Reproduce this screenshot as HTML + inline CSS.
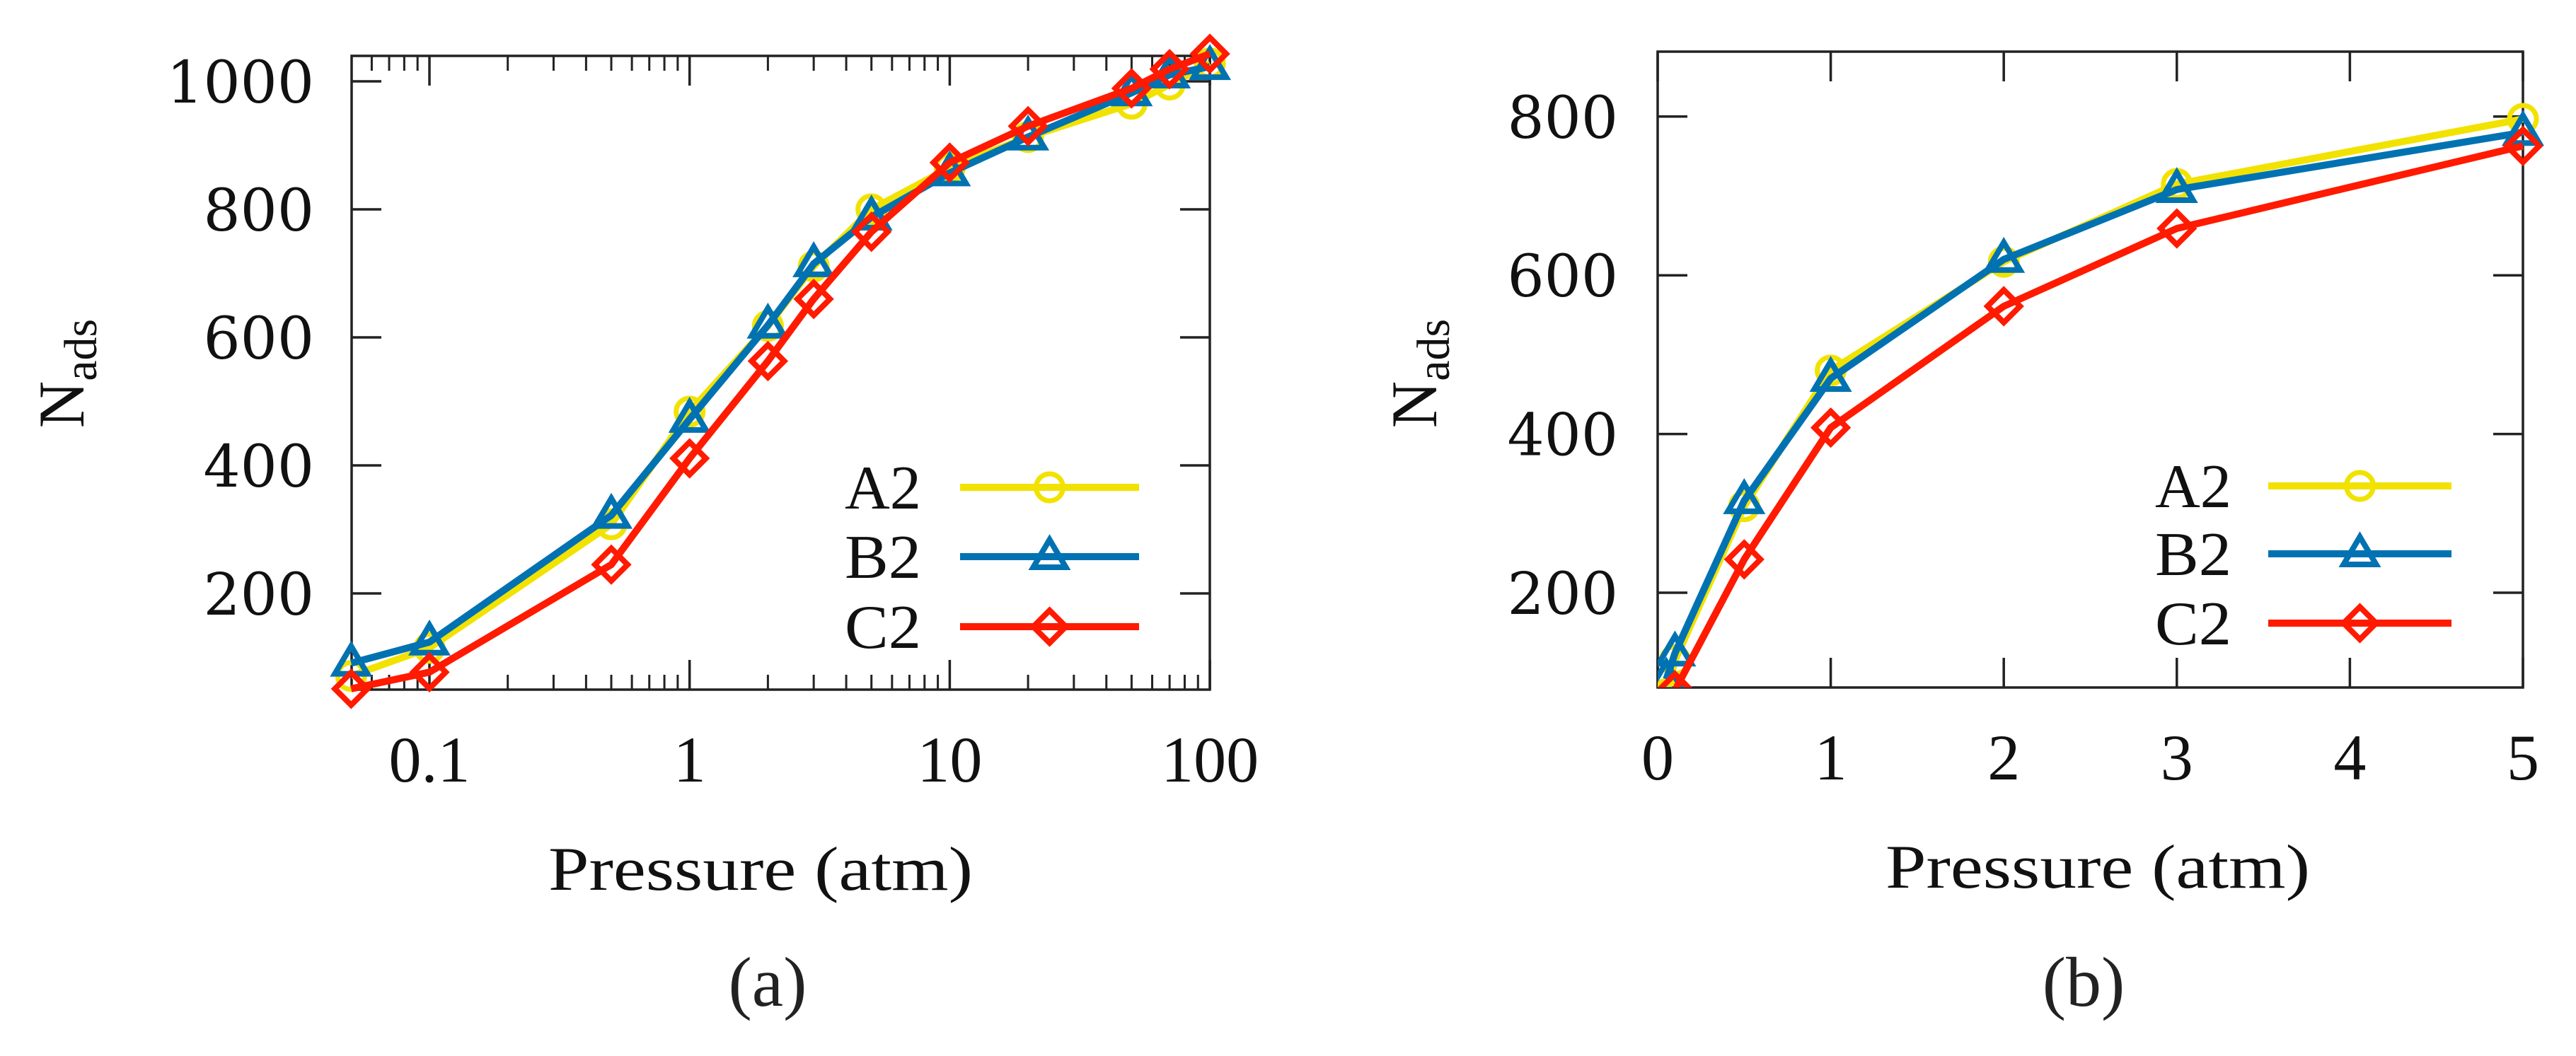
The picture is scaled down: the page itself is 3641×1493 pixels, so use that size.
<!DOCTYPE html>
<html><head><meta charset="utf-8"><style>html,body{margin:0;padding:0;background:#fff}svg{display:block}</style></head>
<body>
<svg id="fig" xmlns="http://www.w3.org/2000/svg" width="3641" height="1493" viewBox="0 0 3641 1493">
<defs>
<clipPath id="clipb"><rect x="2343" y="0" width="1298" height="972"/></clipPath>
</defs>
<rect x="0" y="0" width="3641" height="1493" fill="#fff"/>
<g id="pa"></g>
<g id="pb"></g>
</svg>
<script>
// Panel (a) data (log x)
const xA = [0.05, 0.1, 0.5, 1, 2, 3, 5, 10, 20, 50, 70, 100];
const a2A = [71, 115, 308, 484, 618, 711, 800, 865, 913, 965, 995, 1028];
const b2A = [91, 124, 322, 472, 619, 715, 788, 857, 913, 982, 1010, 1023];
const c2A = [51, 77, 245, 411, 563, 660, 765, 873, 930, 989, 1019, 1043];
const yTicksA = [200, 400, 600, 800, 1000];
const xTicksA = [0.1, 1, 10, 100];
const xTickLabelsA = ["0.1", "1", "10", "100"];
// Panel (b) data (linear x)
const xB = [0.05, 0.1, 0.5, 1, 2, 3, 5];
const a2B = [72, 115, 309, 480, 617, 715, 797];
const b2B = [91, 124, 316, 470, 620, 708, 780];
const c2B = [51, 77, 242, 408, 561, 659, 763];
const yTicksB = [200, 400, 600, 800];
const xTicksB = [0, 1, 2, 3, 4, 5];
const seriesNames = ["A2", "B2", "C2"];
const colors = ["#f2e200", "#0072b2", "#ff1a00"];

const NS = "http://www.w3.org/2000/svg";
const SERIF = "'Liberation Serif', serif";
const DJ = "'DejaVu Serif', serif";
function mk(parent, tag, attrs, txt) {
  const e = document.createElementNS(NS, tag);
  for (const k in attrs) e.setAttribute(k, attrs[k]);
  if (txt !== undefined) e.textContent = txt;
  parent.appendChild(e);
  return e;
}
function marker(g, kind, x, y, c) {
  let m;
  if (kind === 0) m = mk(g, "circle", {cx: x, cy: y, r: 19, fill: "none", stroke: c, "stroke-width": 7});
  else if (kind === 1) m = mk(g, "path", {d: `M${x} ${y-24} L${x+23} ${y+15} L${x-23} ${y+15} Z`, fill: "none", stroke: c, "stroke-width": 8});
  else m = mk(g, "path", {d: `M${x} ${y-23} L${x+23} ${y} L${x} ${y+23} L${x-23} ${y} Z`, fill: "none", stroke: c, "stroke-width": 8});
  return m;
}

function panel(gid, cfg) {
  const g = document.getElementById(gid);
  const X = cfg.X, Y = cfg.Y;
  const fr = mk(g, "rect", {x: cfg.L, y: cfg.T, width: cfg.R - cfg.L, height: cfg.B - cfg.T, fill: "none", stroke: "#222", "stroke-width": 3.5});
  
  
  cfg.yTicks.forEach(v => {
    const y = Y(v);
    const t = mk(g, "path", {d: `M${cfg.L} ${y} h42 M${cfg.R} ${y} h-42`, stroke: "#222", "stroke-width": 3.5});
    
    
    const lb = mk(g, "text", {x: cfg.yLabelRight, y: y + 30, "text-anchor": "end", "font-family": DJ, "font-size": 82, fill: "#111"}, String(v));
    
    
  });
  cfg.xMajor.forEach((v, i) => {
    const x = X(v);
    const t = mk(g, "path", {d: `M${x} ${cfg.B} v-42 M${x} ${cfg.T} v42`, stroke: "#222", "stroke-width": 3.5});
    
    
    const lb = mk(g, "text", {x: x, y: cfg.B + 130, "text-anchor": "middle", "font-family": SERIF, "font-size": 92, fill: "#111"}, cfg.xLabels[i]);
    
    
  });
  (cfg.xMinor || []).forEach(v => {
    const x = X(v);
    const t = mk(g, "path", {d: `M${x} ${cfg.B} v-21 M${x} ${cfg.T} v21`, stroke: "#222", "stroke-width": 3});
    
    
  });
  const xt = mk(g, "text", {x: cfg.xTitleX, y: cfg.B + 283, "text-anchor": "middle", "font-family": SERIF, "font-size": 88, fill: "#111", textLength: 600, lengthAdjust: "spacingAndGlyphs"}, "Pressure (atm)");
  
  
  const yt = mk(g, "text", {transform: `translate(${cfg.yTitleX},528) rotate(-90)`, "text-anchor": "middle", "font-family": SERIF, "font-size": 92, fill: "#111"});
  
  
  mk(yt, "tspan", {}, "N");
  mk(yt, "tspan", {"font-size": 66, dy: 18}, "ads");
  const cap = mk(g, "text", {x: cfg.capX, y: 1422, "text-anchor": "middle", "font-family": SERIF, "font-size": 100, fill: "#222"}, cfg.cap);
  
  
  const dg = mk(g, "g", cfg.clip ? {"clip-path": cfg.clip} : {});
  cfg.series.forEach((ys, si) => {
    const sg = mk(dg, "g", {});
    
    
    const pts = cfg.xs.map((v, i) => `${X(v).toFixed(1)},${Y(ys[i]).toFixed(1)}`).join(" ");
    const pl = mk(sg, "polyline", {points: pts, fill: "none", stroke: colors[si], "stroke-width": 10, "stroke-linejoin": "round"});
    
    
    cfg.xs.forEach((v, i) => {
      const m = marker(sg, si, X(v), Y(ys[i]), colors[si]);
      
      
    });
  });
  const lg = mk(g, "g", {});
  
  
  seriesNames.forEach((n, si) => {
    const ly = cfg.legY[si];
    const eg = mk(lg, "g", {});
    
    
    mk(eg, "text", {x: cfg.legTextX, y: ly + 30, "font-family": SERIF, "font-size": 88, fill: "#111", textLength: 108, lengthAdjust: "spacingAndGlyphs"}, n);
    mk(eg, "line", {x1: cfg.legLine[0], x2: cfg.legLine[1], y1: ly, y2: ly, stroke: colors[si], "stroke-width": 10});
    marker(eg, si, (cfg.legLine[0] + cfg.legLine[1]) / 2, ly, colors[si]);
  });
}

const dec = 367.7, x01 = 607;
const minorA = [0.06, 0.07, 0.08, 0.09];
[0.1, 1, 10].forEach(d => { for (let k = 2; k <= 9; k++) minorA.push(d * k); });
panel("pa", {
  L: 497, R: 1710, T: 79, B: 975,
  X: v => x01 + (Math.log10(v) + 1) * dec,
  Y: v => 1020 - v * 0.905,
  yTicks: yTicksA, yLabelRight: 444,
  xMajor: xTicksA, xLabels: xTickLabelsA, xMinor: minorA,
  xTitleX: 1075, yTitleX: 118, capX: 1085, cap: "(a)",
  xs: xA, series: [a2A, b2A, c2A],
  legY: [689, 787, 886], legTextX: 1194, legLine: [1357, 1610]
});
panel("pb", {
  L: 2343, R: 3566, T: 73, B: 972,
  X: v => 2343 + v * 244.6,
  Y: v => 1062.4 - v * 1.122,
  yTicks: yTicksB, yLabelRight: 2287,
  xMajor: xTicksB, xLabels: xTicksB.map(String),
  xTitleX: 2965, yTitleX: 2030, capX: 2945, cap: "(b)",
  xs: xB, series: [a2B, b2B, c2B], clip: "url(#clipb)",
  legY: [687, 783, 881], legTextX: 3046, legLine: [3206, 3465]
});
</script>
</body></html>
